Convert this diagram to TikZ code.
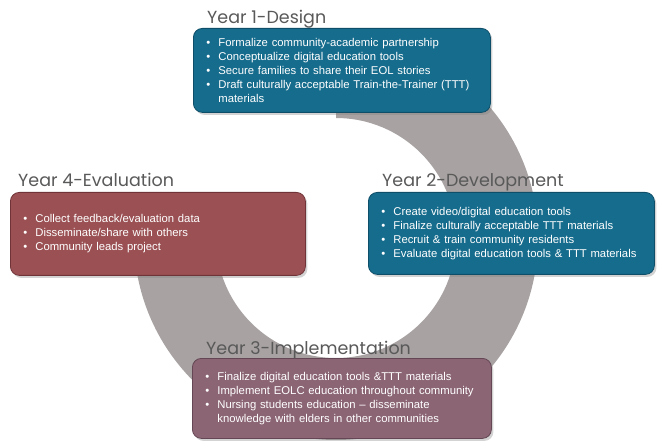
\documentclass[tikz,border=0pt]{standalone}
\usepackage{fontspec}
\setmainfont{Liberation Sans}
\newfontfamily\headfont{Poppins}
\usetikzlibrary{positioning, shadows}

\definecolor{ringgray}{RGB}{168,162,162}
\definecolor{titlegray}{RGB}{89,89,89}
\definecolor{tealfill}{RGB}{22,108,141}
\definecolor{tealedge}{RGB}{14,78,104}
\definecolor{redfill}{RGB}{155,81,84}
\definecolor{rededge}{RGB}{112,52,56}
\definecolor{mauvefill}{RGB}{139,101,116}
\definecolor{mauveedge}{RGB}{100,70,84}

% one bullet line with hanging indent
\newcommand{\task}[1]{\hangindent=13pt\hangafter=1\noindent\makebox[13pt][l]{\hspace{1pt}\textbullet}#1\par}

\begin{document}
\begin{tikzpicture}[x=1pt, y=1pt,
	yearbox/.style={rectangle, rounded corners=9pt, line width=0.8pt, text=white, align=left, inner xsep=12pt, font=\fontsize{11.3}{14}\selectfont, drop shadow={shadow xshift=2pt, shadow yshift=-2.5pt, opacity=0.35}},
	yeartitle/.style={inner sep=0pt, text depth=0pt, text=titlegray, font=\headfont\fontsize{17.5}{19}\selectfont}
	]
	\useasboundingbox (0,0) rectangle (657,440);
	
	% open ring behind the boxes
	\coordinate (hub) at (336,202);
	\fill[ringgray] (hub) ++(0,202) arc[start angle=90, end angle=-180, radius=202pt] -- ++(82,0) arc[start angle=-180, end angle=90, radius=120pt] -- cycle;
	
	% year boxes
	\node[yearbox, fill=tealfill, draw=tealedge, text width=273pt, minimum height=84pt, anchor=north west] (design) at (193,412) {%
		\task{Formalize community-academic partnership}
		\task{Conceptualize digital education tools}
		\task{Secure families to share their EOL stories}
		\task{Draft culturally acceptable Train-the-Trainer (TTT)\newline materials}};
	\node[yearbox, fill=tealfill, draw=tealedge, text width=262pt, minimum height=82pt, anchor=north west] (develop) at (368,248) {%
		\task{Create video/digital education tools}
		\task{Finalize culturally acceptable TTT materials}
		\task{Recruit \& train community residents}
		\task{Evaluate digital education tools \& TTT materials}};
	\node[yearbox, fill=mauvefill, draw=mauveedge, text width=275pt, minimum height=80pt, anchor=north west] (implement) at (192,82) {%
		\task{Finalize digital education tools \&TTT materials}
		\task{Implement EOLC education throughout community}
		\task{Nursing students education -- disseminate\newline knowledge with elders in other communities}};
	\node[yearbox, fill=redfill, draw=rededge, text width=271pt, minimum height=83pt, anchor=north west] (evaluate) at (10,248) {%
		\task{Collect feedback/evaluation data}
		\task{Disseminate/share with others}
		\task{Community leads project}};
	
	% year titles
	\node[yeartitle, above right=4pt and 14pt of design.north west] (designtitle) {Year 1-Design};
	\node[yeartitle, above right=5pt and 14pt of develop.north west] (developtitle) {Year 2-Development};
	\node[yeartitle, above right=3pt and 14pt of implement.north west] (implementtitle) {Year 3-Implementation};
	\node[yeartitle, above right=5pt and 8pt of evaluate.north west] (evaluatetitle) {Year 4-Evaluation};
\end{tikzpicture}
\end{document}
